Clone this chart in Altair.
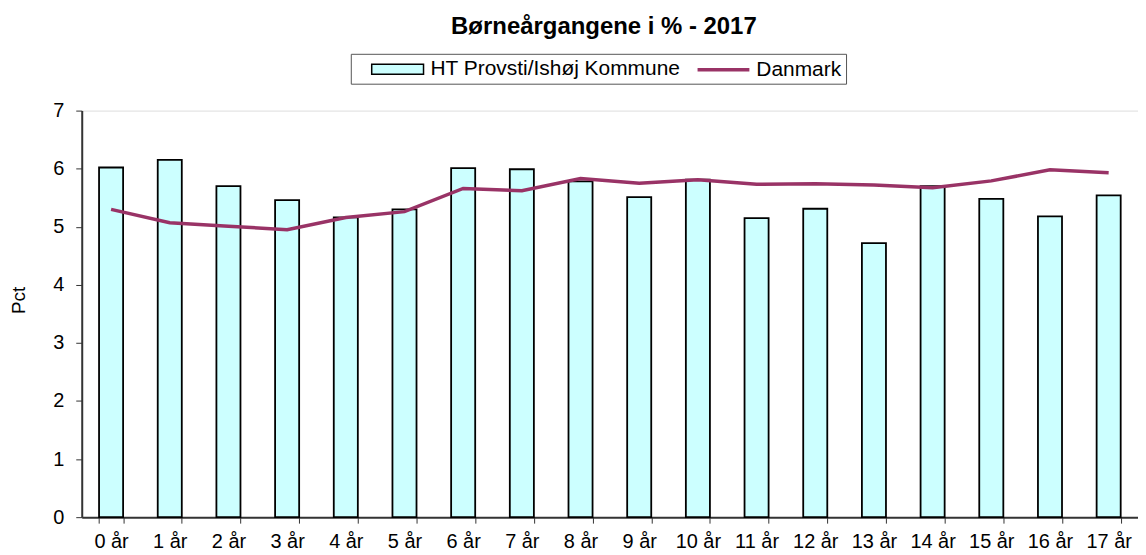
import altair as alt
import pandas as pd

categories = [f"{i} år" for i in range(18)]
ht_values = [6.02, 6.15, 5.70, 5.46, 5.16, 5.30, 6.01, 5.99, 5.78, 5.51,
             5.81, 5.15, 5.31, 4.72, 5.70, 5.48, 5.18, 5.54]
dk_values = [5.30, 5.07, 5.01, 4.95, 5.16, 5.26, 5.66, 5.62, 5.83, 5.75,
             5.81, 5.73, 5.74, 5.72, 5.67, 5.79, 5.98, 5.93]
series_names = ["HT Provsti/Ishøj Kommune", "Danmark"]

df = pd.DataFrame({"kat": categories, "ht": ht_values, "dk": dk_values})
leg_df = pd.DataFrame({"serie": series_names})

FONT = "Liberation Sans"

x = alt.X("kat:N", sort=categories, title=None,
          scale=alt.Scale(paddingInner=0.59, paddingOuter=0.295),
          axis=alt.Axis(labelAngle=0, tickBand="extent", tickSize=6,
                        labelFontSize=20, labelPadding=8, domainColor="#333333",
                        tickColor="#333333", domainWidth=2, labelColor="black"))

bars = alt.Chart(df).mark_bar(fill="#CCFFFF", stroke="black", strokeWidth=1.8).encode(
    x=x,
    y=alt.Y("ht:Q", title="Pct",
            scale=alt.Scale(domain=[0, 7], nice=False),
            axis=alt.Axis(values=[0, 1, 2, 3, 4, 5, 6, 7], format="d", grid=False,
                          tickSize=6, labelFontSize=20, labelPadding=12,
                          titleFontSize=19, titleFontWeight="normal",
                          titlePadding=24, titleY=190,
                          domainColor="#333333", tickColor="#333333", domainWidth=2,
                          labelColor="black", titleColor="black")),
)

line = alt.Chart(df).mark_line(color="#993366", strokeWidth=3.5).encode(
    x=alt.X("kat:N", sort=categories),
    y=alt.Y("dk:Q"),
)

legend_layer = alt.Chart(leg_df).mark_point(opacity=1, filled=False).encode(
    shape=alt.Shape("serie:N", title=None,
                    scale=alt.Scale(domain=series_names,
                                    range=["M-2.6,-0.5H2.6V0.5H-2.6Z", "M-2.6,0H2.6"]),
                    legend=alt.Legend(orient="none", legendX=270, legendY=-57,
                                      direction="horizontal", columns=2,
                                      symbolSize=400, labelFontSize=21,
                                      labelFont=FONT, labelColor="black",
                                      labelOffset=21, symbolOffset=31,
                                      columnPadding=0, padding=4,
                                      strokeColor="#555555", labelLimit=400)),
    fill=alt.Fill("serie:N", scale=alt.Scale(domain=series_names,
                                             range=["#CCFFFF", "transparent"]), legend=None),
    stroke=alt.Stroke("serie:N", scale=alt.Scale(domain=series_names,
                                                 range=["black", "#993366"]), legend=None),
    strokeWidth=alt.StrokeWidth("serie:N", scale=alt.Scale(domain=series_names,
                                                           range=[1.5, 3.5]), legend=None),
).transform_filter("false")

chart = alt.layer(bars, line, legend_layer).properties(
    width=1060, height=408,
    title=alt.Title("Børneårgangene i % - 2017", fontSize=24, fontWeight="bold",
                    font=FONT, color="black", anchor="middle", offset=14, dx=-6),
    padding={"left": 1, "top": 6, "right": 0, "bottom": 0},
).configure_view(
    stroke="#666666", strokeWidth=2
).configure(font=FONT)

chart.save("out.html", embed_options={"renderer": "svg", "actions": False})
